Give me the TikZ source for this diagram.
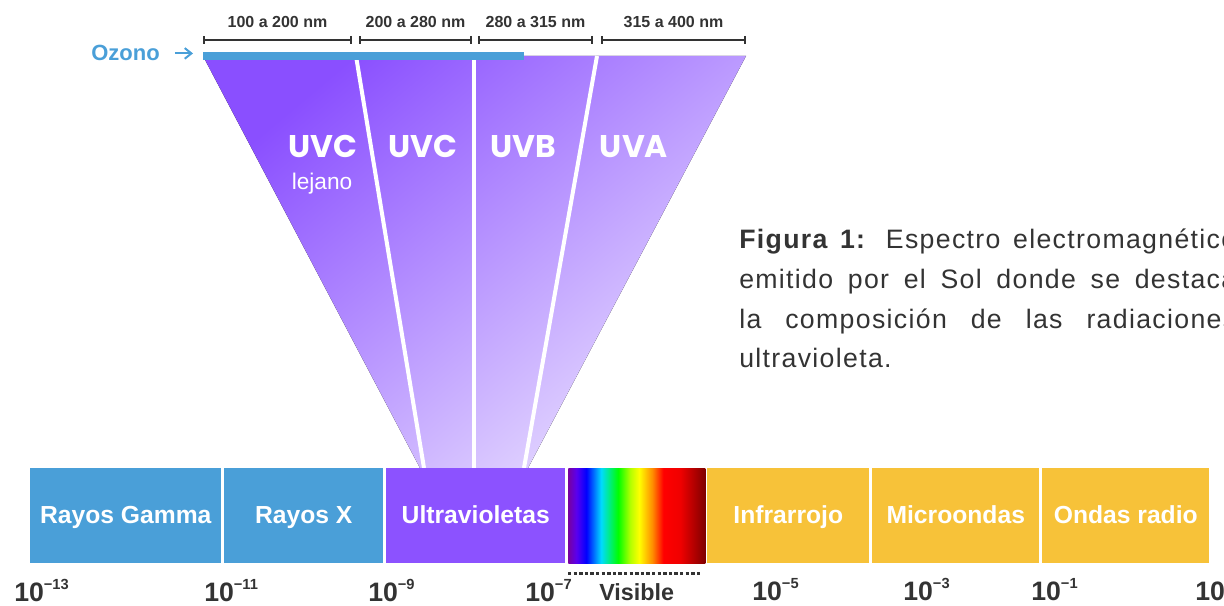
\documentclass[tikz,border=0pt]{standalone}
\usepackage{fontspec}
\setmainfont{Liberation Sans}
\newfontfamily\uvfont{Poppins}
\newfontfamily\capfont[LetterSpace=5]{Liberation Sans}
\usetikzlibrary{arrows.meta}
\definecolor{rayblue}{HTML}{4A9FD8}
\definecolor{uvpurple}{HTML}{8C52FF}
\definecolor{iryellow}{HTML}{F7C239}
\definecolor{labelgray}{HTML}{333333}
\definecolor{funneltop}{HTML}{8A4FFF}
\definecolor{funnelbot}{HTML}{E6DBFF}
\pgfdeclarehorizontalshading{visiblespec}{100bp}{
  rgb(0bp)=(0.47,0,0.63);
  rgb(25bp)=(0.47,0,0.63);
  rgb(28bp)=(0.35,0,0.94);
  rgb(31.6bp)=(0,0,1);
  rgb(37bp)=(0,0.86,1);
  rgb(43.2bp)=(0,1,0);
  rgb(47.6bp)=(0.7,1,0);
  rgb(50.9bp)=(1,1,0);
  rgb(55.7bp)=(1,0.55,0);
  rgb(59.7bp)=(1,0,0);
  rgb(65.9bp)=(0.94,0,0);
  rgb(75bp)=(0.5,0,0);
  rgb(100bp)=(0.5,0,0)}
\newcommand\pexp[1]{\raisebox{0.8ex}{\fontsize{11}{11}\selectfont #1}}

\begin{document}
\begin{tikzpicture}[x=0.75pt,y=-0.75pt,
    band/.style={anchor=north west,inner sep=0pt,text height=41.25pt,text depth=30pt,
      text=white,font=\bfseries\fontsize{18.5}{20}\selectfont},
    power/.style={anchor=base west,inner sep=0pt,text=labelgray,
      font=\bfseries\fontsize{20}{22}\selectfont},
    rangebar/.style={labelgray,line width=1.5pt,arrows={Bar[width=6pt]-Bar[width=6pt]}},
    rangelabel/.style={above=5pt,text=labelgray,font=\bfseries\fontsize{12}{14}\selectfont},
    uvlabel/.style={anchor=base,inner sep=0pt,text=white,
      font=\uvfont\bfseries\fontsize{23.5}{26}\selectfont},
    divider/.style={white,line width=3pt},
    capline/.style={anchor=base west,inner sep=0pt,text=labelgray,
      font=\capfont\fontsize{20}{22}\selectfont}]
    \path[use as bounding box] (0,0) rectangle (1224,606);
    \clip (0,0) rectangle (1224,606);

    % UV funnel
    \fill[top color=funneltop,bottom color=funnelbot,shading angle=40]
    (203,56) -- (746,56) -- (528,468) -- (420,468) -- cycle;
    \draw[divider] (356,56) -- (424,468);
    \draw[divider] (474,56) -- (474,468);
    \draw[divider] (597,56) -- (524,468);

    \path
    (323,158) node[uvlabel] (uvcfar) {UVC}
    (322,190) node[anchor=base,inner sep=0pt,text=white,font=\fontsize{17}{19}\selectfont] (far) {lejano}
    (423,158) node[uvlabel] (uvc) {UVC}
    (523,158) node[uvlabel] (uvb) {UVB}
    (634,158) node[uvlabel] (uva) {UVA}
    ;

    % ozone layer
    \path
    (203,56) node[fill=rayblue,anchor=west,inner sep=0pt,minimum width=240.75pt,minimum height=6pt] (ozone) {}
    (91,61) node[anchor=base west,inner sep=0pt,text=rayblue,font=\bfseries\fontsize{16.5}{18}\selectfont] (ozlabel) {Ozono}
    ;
    \draw[rayblue,line width=1.5pt,-{Straight Barb[length=5pt,width=8pt]},shorten <=11.25pt,shorten >=7.5pt]
    (ozlabel.east) -- (ozlabel.east -| ozone.west);

    % wavelength ranges
    \path
    (203,40) coordinate (r1a) (352,40) coordinate (r1b)
    (359,40) coordinate (r2a) (472,40) coordinate (r2b)
    (478,40) coordinate (r3a) (593,40) coordinate (r3b)
    (601,40) coordinate (r4a) (746,40) coordinate (r4b)
    ;
    \draw[rangebar] (r1a) -- node[rangelabel] (n1) {100 a 200 nm} (r1b);
    \draw[rangebar] (r2a) -- node[rangelabel] (n2) {200 a 280 nm} (r2b);
    \draw[rangebar] (r3a) -- node[rangelabel] (n3) {280 a 315 nm} (r3b);
    \draw[rangebar] (r4a) -- node[rangelabel] (n4) {315 a 400 nm} (r4b);

    % spectrum bands
    \path
    (30,468) node[band,fill=rayblue,minimum width=143.25pt] (gamma) {Rayos Gamma}
    (224,468) node[band,fill=rayblue,minimum width=119.25pt] (xray) {Rayos X}
    (386,468) node[band,fill=uvpurple,minimum width=134.25pt] (uv) {Ultravioletas}
    (568,468) node[band,shade,shading=visiblespec,minimum width=102.75pt] (visible) {}
    (707,468) node[band,fill=iryellow,minimum width=121.5pt] (ir) {Infrarrojo}
    (872,468) node[band,fill=iryellow,minimum width=125.25pt] (micro) {Microondas}
    (1042,468) node[band,fill=iryellow,minimum width=125.25pt] (radio) {Ondas radio}
    ;
    \draw[labelgray,line width=2.5pt,dash pattern=on 2.5pt off 1.7pt]
    ([yshift=-7.5pt]visible.south west) -- ([yshift=-7.5pt,xshift=-3.75pt]visible.south east);

    % wavelength scale
    \path
    (14,601) node[power] (p13) {10\pexp{−13}}
    (204,601) node[power] (p11) {10\pexp{−11}}
    (368,601) node[power] (p9) {10\pexp{−9}}
    (525,601) node[power] (p7) {10\pexp{−7}}
    (599,600) node[power,font=\bfseries\fontsize{17.5}{20}\selectfont] (vislabel) {Visible}
    (752,600) node[power] (p5) {10\pexp{−5}}
    (903,600) node[power] (p3) {10\pexp{−3}}
    (1031,600) node[power] (p1) {10\pexp{−1}}
    (1195,600) node[power] (p0) {10}
    ;

    % caption
    \path
    (739,248) node[capline] (cap1) {\makebox[372.75pt][s]{\textbf{Figura 1:} Espectro electromagnético}}
    (739,288) node[capline] (cap2) {\makebox[372.75pt][s]{emitido por el Sol donde se destaca}}
    (739,328) node[capline] (cap3) {\makebox[372.75pt][s]{la composición de las radiaciones}}
    (739,367) node[capline] (cap4) {ultravioleta.}
    ;
  \end{tikzpicture}
\end{document}
